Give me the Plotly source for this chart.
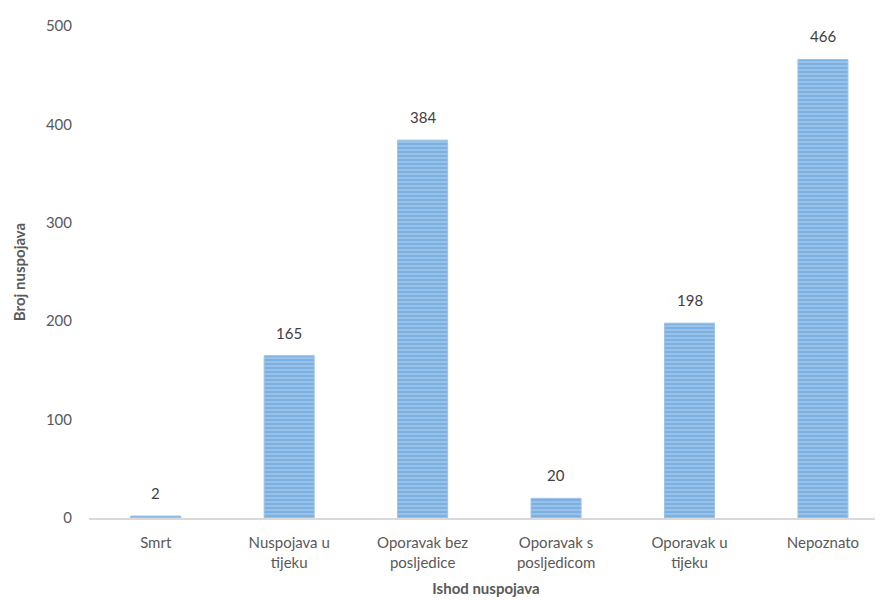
import plotly.graph_objects as go

categories = ["Smrt", "Nuspojava u<br>tijeku", "Oporavak bez<br>posljedice",
              "Oporavak s<br>posljedicom", "Oporavak u<br>tijeku", "Nepoznato"]
values = [2, 165, 384, 20, 198, 466]
y_ticks = [0, 100, 200, 300, 400, 500]

xs = list(range(len(categories)))

fig = go.Figure()
fig.add_trace(go.Bar(
    x=xs,
    y=values,
    marker=dict(
        color="#7EB0E2",
        line=dict(color="#9DC3E6", width=1),
        pattern=dict(shape="-", fgcolor="#5B9BD5", bgcolor="#9CC4EC",
                     size=4, solidity=0.55, fillmode="overlay"),
    ),
))

for xi, v in zip(xs, values):
    fig.add_annotation(x=xi, y=v, text=str(v), showarrow=False,
                       yanchor="bottom", yshift=12,
                       font=dict(family="Lato", size=15, color="#404040"))

fig.update_layout(
    width=883, height=600,
    margin=dict(l=81, r=8, t=13, b=90),
    paper_bgcolor="white", plot_bgcolor="white",
    bargap=0.625,
    showlegend=False,
    font=dict(family="Lato", size=15, color="#595959"),
    xaxis=dict(
        tickmode="array", tickvals=xs, ticktext=categories,
        range=[-0.5, 5.45],
        showline=True, linecolor="#D9D9D9", linewidth=2,
        showgrid=False, zeroline=False, ticks="",
        ticklabelstandoff=10,
        tickfont=dict(family="Lato", size=15, color="#595959"),
        title=dict(text="<b>Ishod nuspojava</b>", standoff=14,
                   font=dict(family="Lato", size=15, color="#595959")),
    ),
    yaxis=dict(
        range=[0, 500], tickvals=y_ticks,
        showgrid=False, zeroline=False, showline=False, ticks="",
        ticklabelstandoff=16,
        tickfont=dict(family="Lato", size=15, color="#595959"),
        title=dict(text="<b>Broj nuspojava</b>", standoff=16,
                   font=dict(family="Lato", size=15, color="#595959")),
    ),
)

fig.write_html("out.html")
